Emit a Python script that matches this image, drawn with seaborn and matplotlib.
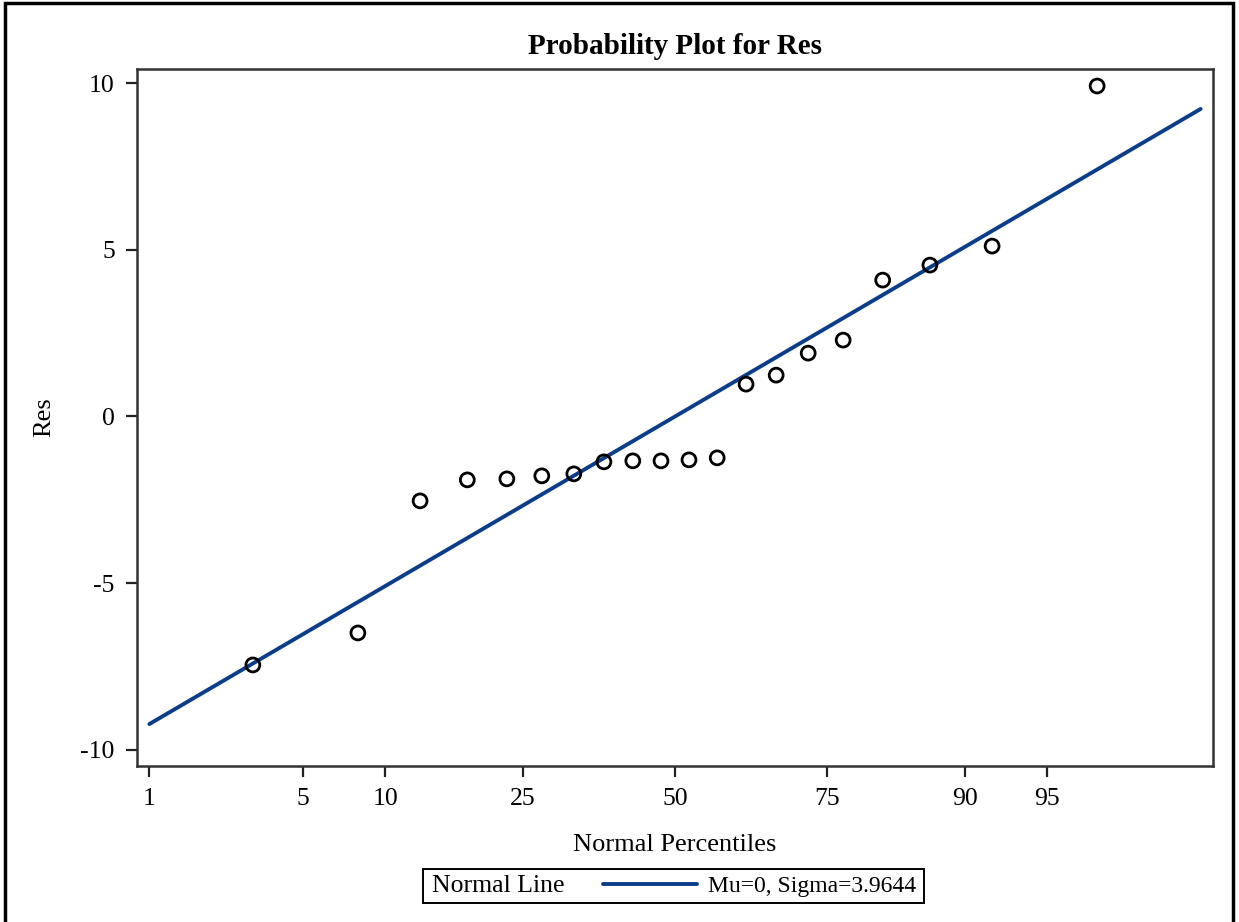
import numpy as np
import pandas as pd
import matplotlib
matplotlib.use("Agg")
import matplotlib.pyplot as plt
import seaborn as sns
from statistics import NormalDist
from matplotlib.patches import Rectangle
from matplotlib.lines import Line2D

# ---- data ----
residuals = [-7.45, -6.49, -2.53, -1.90, -1.87, -1.78, -1.72, -1.33, -1.36, -1.33,
             -1.30, -1.24, 0.97, 1.24, 1.90, 2.29, 4.09, 4.54, 5.11, 9.91]
mu = 0.0
sigma = 3.9644
x_ticks = [1, 5, 10, 25, 50, 75, 90, 95]
y_ticks = [-10, -5, 0, 5, 10]
line_pct = [1, 2, 5, 10, 25, 50, 75, 90, 95, 98, 99]

nd = NormalDist()
n = len(residuals)
sorted_res = np.sort(residuals)
# Blom plotting positions (percent)
pct = [(i - 0.375) / (n + 0.25) * 100 for i in range(1, n + 1)]
df = pd.DataFrame({"pct": pct, "res": sorted_res})
line_df = pd.DataFrame({"pct": line_pct,
                        "res": [mu + sigma * nd.inv_cdf(p / 100) for p in line_pct]})

_inv_cdf = np.vectorize(lambda v: nd.inv_cdf(v / 100), otypes=[float])
_cdf = np.vectorize(lambda v: nd.cdf(v) * 100, otypes=[float])

def fwd(p):
    p = np.clip(np.asarray(p, dtype=float), 1e-9, 100 - 1e-9)
    return _inv_cdf(p)

def inv(z):
    z = np.asarray(z, dtype=float)
    return _cdf(z)

sns.set_style("white")
plt.rcParams['font.family'] = ['Liberation Serif', 'DejaVu Serif']
plt.rcParams['text.color'] = 'black'
plt.rcParams['axes.labelcolor'] = 'black'
plt.rcParams['xtick.color'] = 'black'
plt.rcParams['ytick.color'] = 'black'

W, H = 1239, 922
fig = plt.figure(figsize=(W / 100, H / 100), dpi=100)
L, R, T, B = 137, 1213, 69, 766
ax = fig.add_axes([L / W, 1 - B / H, (R - L) / W, (B - T) / H])

navy = '#0b3d89'
sns.lineplot(data=line_df, x="pct", y="res", ax=ax, color=navy, lw=2.8,
             sort=True, legend=False)
sns.scatterplot(data=df, x="pct", y="res", ax=ax, marker='o', s=100,
                facecolor='none', edgecolor='black', linewidth=2.0, zorder=3)

ax.set_xscale('function', functions=(fwd, inv))
ax.set_xlim(float(inv(-2.381)), float(inv(2.381)))
ax.set_ylim(-10.48, 10.42)
ax.set_xticks(x_ticks)
ax.set_xticklabels([str(t) for t in x_ticks])
ax.xaxis.set_minor_locator(matplotlib.ticker.NullLocator())
ax.set_yticks(y_ticks)
ax.set_yticklabels([str(t) for t in y_ticks])
ax.tick_params(axis='both', direction='out', length=8, width=1.6, color='#222222',
               labelsize=18.5, pad=8, bottom=True, left=True, labelcolor='black')
ax.tick_params(axis='x', pad=8)
for s in ax.spines.values():
    s.set_color('#333333')
    s.set_linewidth(1.8)

ax.set_xlabel("Normal Percentiles", fontsize=19, labelpad=17, color='black')
ax.set_ylabel("Res", fontsize=19, labelpad=18, color='black')
ax.set_title("Probability Plot for Res", fontsize=21, fontweight='bold', pad=11,
             color='black')

# outer frame
fig.patches.append(Rectangle((5 / W, -0.01), (1233 - 5) / W, 1 - 3 / H + 0.01,
                             transform=fig.transFigure, fill=False,
                             edgecolor='black', linewidth=2.5))

# legend box
fig.patches.append(Rectangle((423 / W, 1 - 903 / H), (924 - 423) / W, 34 / H,
                             transform=fig.transFigure, fill=False,
                             edgecolor='black', linewidth=1.4))
fig.text(432 / W, 1 - 886 / H, "Normal Line", fontsize=18.5, va='center', ha='left',
         color='black')
h = Line2D([], [], color=navy, lw=2.8)
fig.legend(handles=[h], labels=[f"Mu={mu:g}, Sigma={sigma}"], loc='center left',
           bbox_to_anchor=(603 / W, 1 - 886 / H), frameon=False, fontsize=17,
           handlelength=4.0, handletextpad=0.45, borderpad=0, borderaxespad=0,
           labelcolor='black')

fig.savefig("out.png", dpi=100)
